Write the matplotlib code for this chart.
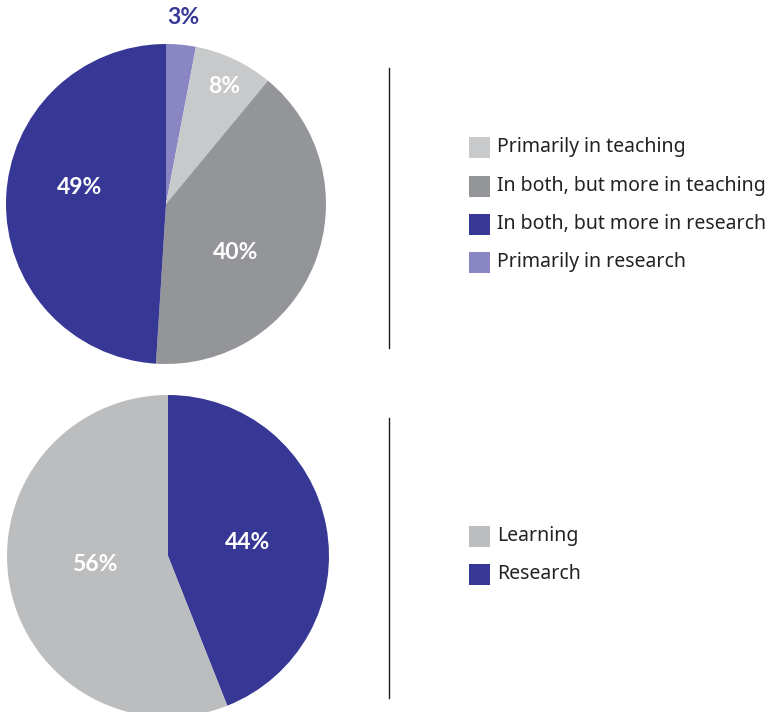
import matplotlib.pyplot as plt
from matplotlib.patches import Rectangle
import numpy as np

plt.rcParams['font.family'] = ['Noto Sans', 'DejaVu Sans']

# where academics' interests lie
roles = ["Primarily in research", "Primarily in teaching",
         "In both, but more in teaching", "In both, but more in research"]
role_share = [3, 8, 40, 49]
role_colors = ["#8a86c3", "#c8c9cb", "#939598", "#373895"]
legend_order = [1, 2, 3, 0]

# learning vs research
focus = ["Research", "Learning"]
focus_share = [44, 56]
focus_colors = ["#373895", "#bcbdbf"]

W, H = 769, 712
fig = plt.figure(figsize=(W / 100, H / 100), dpi=100)
ax = fig.add_axes([0, 0, 1, 1])


def py(y):
    # pixel row -> data y (y axis points up)
    return H - y


def draw_pie(values, colors, center, radius, label_pos, label_colors):
    wedges, _ = ax.pie(values, colors=colors, startangle=90, counterclock=False,
                       center=center, radius=radius, frame=True,
                       wedgeprops=dict(linewidth=0))
    for w, v, (dist, shift), c in zip(wedges, values, label_pos, label_colors):
        ang = np.deg2rad((w.theta1 + w.theta2) / 2 + shift)
        x = center[0] + dist * radius * np.cos(ang)
        y = center[1] + dist * radius * np.sin(ang)
        ax.text(x, y, f"{v}%", ha='center', va='center', fontsize=16.5,
                fontweight='bold', family=['Lato', 'DejaVu Sans'], color=c)


draw_pie(role_share, role_colors, (166, py(204)), 160,
         [(1.17, 0), (0.82, -1), (0.53, -13), (0.55, -9)],
         ["#373895", "white", "white", "white"])
draw_pie(focus_share, focus_colors, (168, py(556)), 161,
         [(0.5, -1), (0.46, -4)],
         ["white", "white"])

# divider lines
ax.plot([389, 389], [py(68), py(348)], color="#1a1a1a", lw=1)
ax.plot([389, 389], [py(418), py(698)], color="#1a1a1a", lw=1)


def draw_legend(names, colors, ys):
    for name, c, y in zip(names, colors, ys):
        ax.add_patch(Rectangle((469, py(y) - 10.5), 21, 21, facecolor=c, lw=0))
        ax.text(497, py(y), name, ha='left', va='center', fontsize=14,
                color="#222222")


draw_legend([roles[i] for i in legend_order], [role_colors[i] for i in legend_order],
            [147, 186, 224, 262])
draw_legend(focus[::-1], focus_colors[::-1], [536, 574])

ax.set_xlim(0, W)
ax.set_ylim(0, H)
ax.set_aspect('equal')
ax.axis('off')

fig.savefig("out.png", dpi=100)
